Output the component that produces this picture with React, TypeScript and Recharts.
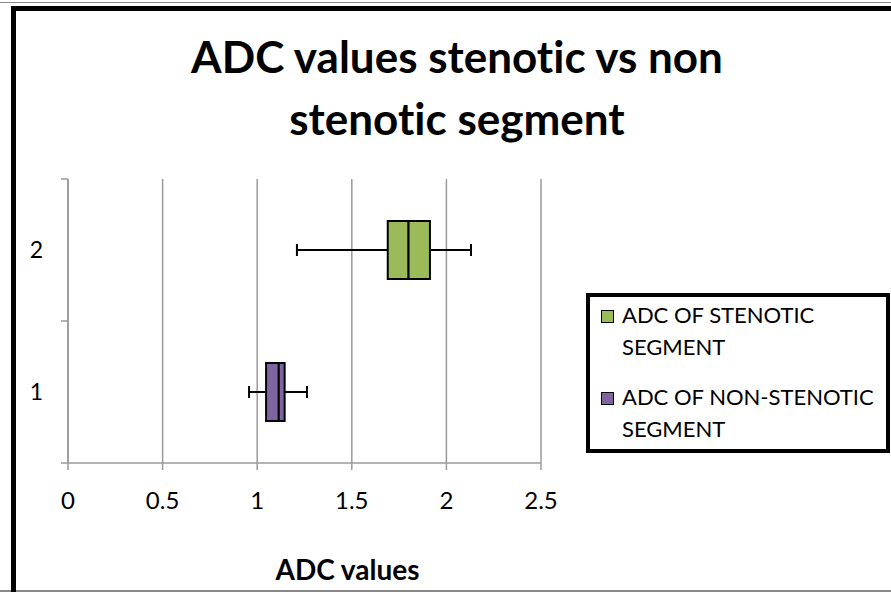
import React from 'react'
import { ComposedChart, Bar, XAxis, YAxis, CartesianGrid } from 'recharts'

// categories top to bottom
const categories = ['2', '1']
const seriesNames = ['ADC OF STENOTIC SEGMENT', 'ADC OF NON-STENOTIC SEGMENT']
const seriesColors = ['#9BBB59', '#8064A2']
const mins = [1.21, 0.957]
const q1s = [1.69, 1.047]
const medians = [1.8, 1.114]
const q3s = [1.913, 1.145]
const maxs = [2.13, 1.263]
const xTicks = [0, 0.5, 1, 1.5, 2, 2.5]

const data = categories.map((cat, i) => ({
  cat,
  color: seriesColors[i],
  base: mins[i],
  lowWhisker: q1s[i] - mins[i],
  lowBox: medians[i] - q1s[i],
  highBox: q3s[i] - medians[i],
  highWhisker: maxs[i] - q3s[i],
}))

const FONT = 'Lato, "Open Sans", sans-serif'
const GRID = '#9a9a9a'

function Whisker(props: any) {
  const { x, y, width, height, side } = props
  const cy = y + height / 2
  const capX = side === 'low' ? x : x + width
  return (
    <g>
      <line x1={x} x2={x + width} y1={cy} y2={cy} stroke="#000" strokeWidth={2} />
      <line x1={capX} x2={capX} y1={cy - 6} y2={cy + 6} stroke="#000" strokeWidth={2} />
    </g>
  )
}

function BoxPart(props: any) {
  const { x, y, width, height, payload } = props
  return <rect x={x} y={y} width={width} height={height} fill={payload.color} stroke="#000" strokeWidth={2} />
}

// category label plus Excel-style tick marks at the band edges
function CatTick(props: any) {
  const { x, y, payload, index } = props
  const half = payload && payload.offset ? payload.offset : 71
  const axisX = x + 26
  return (
    <g>
      <line x1={axisX - 7} x2={axisX} y1={y - half} y2={y - half} stroke={GRID} strokeWidth={1.5} />
      {index === categories.length - 1 && (
        <line x1={axisX - 7} x2={axisX} y1={y + half} y2={y + half} stroke={GRID} strokeWidth={1.5} />
      )}
      <text x={x + 1} y={y} dy="0.35em" textAnchor="end" fill="#000" fontSize={23} fontFamily={FONT}>
        {payload.value}
      </text>
    </g>
  )
}

export default function App() {
  return (
    <div style={{ position: 'fixed', left: 0, top: 0, width: 891, height: 592, overflow: 'hidden', background: '#fff', fontFamily: FONT, fontVariantLigatures: 'none' }}>
      <div style={{ position: 'absolute', left: 0, top: 2, width: 891, height: 1, background: '#888' }} />
      <div style={{ position: 'absolute', left: 0, top: 590, width: 891, height: 2, background: '#888' }} />
      <div style={{ position: 'absolute', left: 11, top: 6, width: 900, height: 620, border: '5px solid #000', boxSizing: 'border-box' }} />

      <div style={{ position: 'absolute', left: 0, top: 25, width: 914, textAlign: 'center', fontWeight: 700, fontSize: 44, lineHeight: '62px', color: '#000' }}>
        ADC values stenotic vs non
        <br />
        stenotic segment
      </div>

      <div style={{ position: 'absolute', left: 0, top: 0 }}>
        <ComposedChart width={891} height={592} data={data} layout="vertical" barCategoryGap={0} margin={{ top: 179, right: 350, bottom: 0, left: 0 }}>
          <CartesianGrid yAxisId="cat" horizontal={false} stroke={GRID} strokeWidth={1.5} strokeDasharray="" />
          <XAxis
            type="number"
            domain={[0, 2.5]}
            ticks={xTicks}
            height={129}
            interval={0}
            tickSize={7}
            tickMargin={22}
            axisLine={{ stroke: GRID, strokeWidth: 1.5 }}
            tickLine={{ stroke: GRID, strokeWidth: 1.5 }}
            tick={{ fill: '#000', fontSize: 24, fontFamily: FONT }}
            label={{ value: 'ADC values', position: 'insideBottom', offset: 12, dx: 43, style: { fill: '#000', fontSize: 28, fontWeight: 700, fontFamily: FONT } }}
          />
          <YAxis
            yAxisId="cat"
            type="category"
            dataKey="cat"
            width={68}
            axisLine={{ stroke: GRID, strokeWidth: 1.5 }}
            tickLine={false}
            tickSize={6}
            tickMargin={20}
            tick={<CatTick />}
          />
          <Bar yAxisId="cat" dataKey="base" stackId="a" barSize={58} fill="transparent" isAnimationActive={false} />
          <Bar yAxisId="cat" dataKey="lowWhisker" stackId="a" barSize={58} isAnimationActive={false} shape={(p: any) => <Whisker {...p} side="low" />} />
          <Bar yAxisId="cat" dataKey="lowBox" stackId="a" barSize={58} isAnimationActive={false} shape={(p: any) => <BoxPart {...p} />} />
          <Bar yAxisId="cat" dataKey="highBox" stackId="a" barSize={58} isAnimationActive={false} shape={(p: any) => <BoxPart {...p} />} />
          <Bar yAxisId="cat" dataKey="highWhisker" stackId="a" barSize={58} isAnimationActive={false} shape={(p: any) => <Whisker {...p} side="high" />} />
        </ComposedChart>
      </div>

      <div style={{ position: 'absolute', left: 586, top: 293, width: 304, height: 160, border: '4px solid #000', boxSizing: 'border-box', fontSize: 22, color: '#000' }}>
        {seriesNames.map((name, i) => {
          const words = name.split(' ')
          const line2 = words.pop()
          return (
            <div key={name} style={{ position: 'absolute', left: 11, top: i === 0 ? 2 : 84, display: 'flex' }}>
              <div style={{ width: 11, height: 11, marginTop: 11, background: seriesColors[i], border: '1.5px solid #000', marginRight: 8, flexShrink: 0 }} />
              <div style={{ lineHeight: '32px', whiteSpace: 'nowrap' }}>
                {words.join(' ')}
                <br />
                {line2}
              </div>
            </div>
          )
        })}
      </div>
    </div>
  )
}
